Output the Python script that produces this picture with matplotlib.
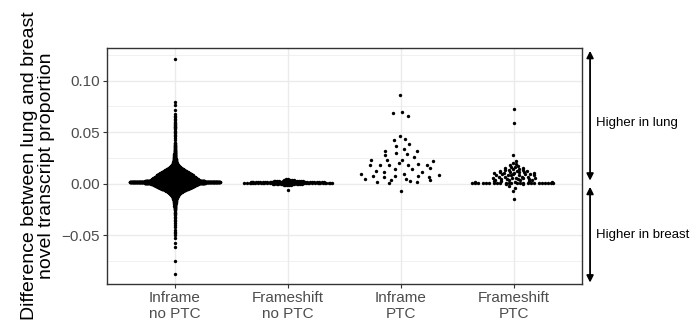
import numpy as np
import matplotlib
matplotlib.use("Agg")
import matplotlib.pyplot as plt

plt.rcParams['font.family'] = ['Liberation Sans', 'DejaVu Sans']

# Categories
categories = ["Inframe\nno PTC", "Frameshift\nno PTC", "Inframe\nPTC", "Frameshift\nPTC"]

# Inframe no PTC: dense core read as value bins with point counts, plus the sparse tails
inframe_noptc_bins = [-0.030, -0.029, -0.028, -0.027, -0.026, -0.025, -0.024, -0.023, -0.022, -0.021,
                      -0.020, -0.019, -0.018, -0.017, -0.016, -0.015, -0.014, -0.013, -0.012, -0.011,
                      -0.010, -0.009, -0.008, -0.007, -0.006, -0.005, -0.004, -0.003, -0.002, -0.001,
                      0.000, 0.001, 0.002, 0.003, 0.004, 0.005, 0.006, 0.007, 0.008, 0.009,
                      0.010, 0.011, 0.012, 0.013, 0.014, 0.015, 0.016, 0.017, 0.018, 0.019,
                      0.020, 0.021, 0.022, 0.023, 0.024, 0.025, 0.026, 0.027, 0.028, 0.029,
                      0.030, 0.031, 0.032, 0.033, 0.034, 0.035, 0.036, 0.037, 0.038, 0.039, 0.040]
inframe_noptc_counts = [1, 1, 2, 1, 2, 2, 3, 3, 4, 4,
                        5, 6, 7, 8, 10, 13, 16, 20, 25, 31,
                        38, 47, 58, 72, 90, 110, 130, 150, 165, 180,
                        200, 230, 460, 220, 205, 195, 185, 170, 155, 140,
                        125, 110, 95, 82, 68, 55, 44, 34, 26, 20,
                        16, 13, 11, 9, 8, 7, 6, 5, 5, 4,
                        4, 3, 3, 3, 2, 2, 2, 2, 2, 1, 2]
inframe_noptc_tails = [0.042, 0.044, 0.046, 0.047, 0.049, 0.050, 0.051, 0.053, 0.054, 0.055,
                       0.055, 0.056, 0.057, 0.058, 0.059, 0.060, 0.062, 0.063, 0.065, 0.066,
                       0.068, 0.072, 0.076, 0.079, 0.121,
                       -0.032, -0.033, -0.035, -0.036, -0.038, -0.040, -0.042, -0.045, -0.047,
                       -0.048, -0.050, -0.053, -0.058, -0.061, -0.075, -0.088]

# Frameshift no PTC: value bins with counts
frameshift_noptc_bins = [-0.006, -0.001, 0.000, 0.001, 0.002, 0.003, 0.004, 0.005]
frameshift_noptc_counts = [1, 5, 15, 42, 35, 15, 6, 2]

# Inframe PTC: individual points
inframe_ptc = [0.0861, 0.069, 0.070, 0.066, 0.0466, 0.0427, 0.0437, 0.0385, 0.0369, 0.032,
               0.034, 0.0314, 0.0276, 0.0301, 0.0288, 0.0259, 0.0227, 0.023, 0.0227, 0.0217,
               0.0179, 0.0185, 0.0185, 0.0198, 0.0179, 0.0194, 0.0185, 0.0155, 0.014, 0.014,
               0.012, 0.011, 0.0114, 0.0091, 0.0075, 0.0065, 0.0078, 0.0091, 0.0078, 0.0068,
               0.0087, 0.0043, 0.0019, 0.0036, 0.0043, 0.0029, 0.0019, 0.0036, 0.0004, -0.0071]

# Frameshift PTC: individual points
frameshift_ptc = [0.0722, 0.0586, 0.0282, 0.022, 0.020, 0.019, 0.018, 0.017, 0.0165, 0.016,
                  0.015, 0.015, 0.014, 0.014, 0.013, 0.013, 0.013, 0.012, 0.012, 0.012,
                  0.011, 0.011, 0.011, 0.011, 0.010, 0.010, 0.010, 0.010, 0.009, 0.009,
                  0.009, 0.009, 0.008, 0.008, 0.008, 0.008, 0.008, 0.007, 0.007, 0.007, 0.007,
                  0.006, 0.006, 0.006, 0.006, 0.006, 0.005, 0.005, 0.005, 0.005, 0.004, 0.004,
                  0.004, 0.004, 0.003, 0.003, 0.003, 0.002, 0.002, 0.002,
                  0.001, 0.001, 0.001, 0.001, 0.001, 0.001, 0.001, 0.001, 0.001, 0.001,
                  0.001, 0.001, 0.001, 0.001, 0.001, 0.001, 0.001, 0.001, 0.001, 0.001,
                  0.001, 0.001, 0.001, 0.001, 0.000, 0.000, -0.002, -0.004, -0.0074, -0.0151]

groups = [
    np.concatenate([np.repeat(inframe_noptc_bins, inframe_noptc_counts), inframe_noptc_tails]),
    np.repeat(frameshift_noptc_bins, frameshift_noptc_counts),
    np.array(inframe_ptc),
    np.array(frameshift_ptc),
]


def van_der_corput(n, base=2):
    out = np.zeros(n)
    for i in range(1, n + 1):
        q, denom, x = i, 1, 0.0
        while q:
            denom *= base
            q, r = divmod(q, base)
            x += r / denom
        out[i - 1] = x
    return out


def quasirandom_offsets(y, width=0.4, adjust=0.5):
    # like ggbeeswarm::geom_quasirandom: van der Corput offsets scaled by kernel density
    y = np.asarray(y, dtype=float)
    n = len(y)
    iqr = np.subtract(*np.percentile(y, [75, 25]))
    sd = np.std(y, ddof=1)
    lo = min(sd, iqr / 1.34) if iqr > 0 else sd
    bw = 0.9 * lo * n ** -0.2 * adjust
    grid = np.linspace(y.min() - 3 * bw, y.max() + 3 * bw, 1024)
    dens = np.exp(-0.5 * ((grid[:, None] - y[None, :]) / bw) ** 2).sum(axis=1)
    d = np.interp(y, grid, dens)
    d = d / dens.max()
    rank = np.argsort(np.argsort(y, kind="stable"), kind="stable")
    vdc = van_der_corput(n)[rank]
    return (vdc - 0.5) * 2 * width * d


fig = plt.figure(figsize=(6.94, 3.33), dpi=100)
ax = fig.add_axes([0.1542, 0.1471, 0.6844, 0.7088])

for i, vals in enumerate(groups):
    xs = i + 1 + quasirandom_offsets(vals)
    ax.scatter(xs, vals, s=6, color="black", linewidths=0, zorder=3)

ax.set_xlim(0.4, 4.6)
ax.set_ylim(-0.0974, 0.1318)
ax.set_xticks([1, 2, 3, 4])
ax.set_xticklabels(categories, linespacing=1.2)
ax.set_yticks([-0.05, 0.0, 0.05, 0.10])
ax.set_yticklabels(["\u22120.05", "0.00", "0.05", "0.10"])
ax.set_yticks([-0.075, -0.025, 0.025, 0.075, 0.125], minor=True)
ax.tick_params(axis="both", which="major", length=3, width=0.8, color="#333333",
               labelcolor="#4D4D4D", labelsize=11, pad=2)
ax.tick_params(axis="y", which="minor", length=0)
ax.grid(True, which="major", color="#EBEBEB", linewidth=1.0, zorder=0)
ax.grid(True, which="minor", axis="y", color="#EBEBEB", linewidth=0.5, zorder=0)
ax.set_axisbelow(True)
for sp in ax.spines.values():
    sp.set_color("#333333")
    sp.set_linewidth(1.0)

ax.set_ylabel("Difference between lung and breast\nnovel transcript proportion",
              fontsize=14, linespacing=1.0, labelpad=5)

# side arrows and notes
arrow_kw = dict(arrowstyle="<|-|>", color="black", lw=1.3, mutation_scale=10, shrinkA=0, shrinkB=0)
ax.annotate("", xy=(1.017, 0.129), xytext=(1.017, 0.003),
            xycoords=("axes fraction", "data"), textcoords=("axes fraction", "data"),
            arrowprops=arrow_kw, annotation_clip=False)
ax.annotate("", xy=(1.017, -0.003), xytext=(1.017, -0.096),
            xycoords=("axes fraction", "data"), textcoords=("axes fraction", "data"),
            arrowprops=arrow_kw, annotation_clip=False)
ax.text(1.029, 0.059, "Higher in lung", transform=ax.get_yaxis_transform(),
        ha="left", va="center", fontsize=9.5, color="black")
ax.text(1.029, -0.050, "Higher in breast", transform=ax.get_yaxis_transform(),
        ha="left", va="center", fontsize=9.5, color="black")

fig.savefig("out.png", dpi=100)
